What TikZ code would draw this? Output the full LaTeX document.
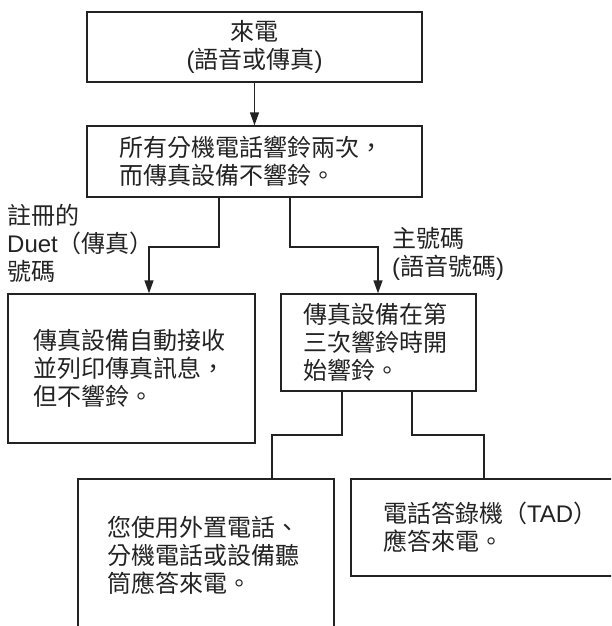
\documentclass[tikz,border=0pt]{standalone}
\usepackage{fontspec}
\setmainfont{Noto Sans CJK TC}
\newfontfamily\lat{Liberation Sans}
\usetikzlibrary{arrows.meta}
\definecolor{ink}{RGB}{35,35,35}
\newcommand{\la}[1]{{\lat #1}}
\begin{document}
\begin{tikzpicture}[x=1pt,y=-1pt,
  every node/.style={font=\fontsize{24}{28}\selectfont, text=ink},
  box/.style={draw=ink, line width=1.4pt, rectangle, inner ysep=0pt, align=left},
  line/.style={draw=ink, line width=1.4pt},
  arr/.style={line, -{Triangle[length=13pt,width=9pt]}},
  lbl/.style={anchor=west, inner sep=0pt, align=left}]
\useasboundingbox (0,0) rectangle (611,626);
\clip (0,0) rectangle (611,626);
\fill[white] (0,0) rectangle (611,626);

\node[box, align=center, minimum width=335pt, minimum height=70pt] (b1) at (254.5,47) {來電\\\la{(}語音或傳真\la{)}};
\node[box, text width=271pt, inner xsep=32pt, minimum height=71pt] (b2) at (254.5,161.5) {所有分機電話響鈴兩次，\\而傳真設備不響鈴。};
\node[box, text width=197pt, inner xsep=25pt, minimum height=149pt] (b3) at (131.5,368.5) {傳真設備自動接收\\並列印傳真訊息，\\但不響鈴。};
\node[box, text width=151pt, inner xsep=22pt, minimum height=97pt] (b4) at (378.5,342.5) {傳真設備在第\\三次響鈴時開\\始響鈴。};
\node[box, text width=198pt, inner xsep=29pt, minimum height=152pt] (b5) at (206,555) {您使用外置電話、\\分機電話或設備聽\\筒應答來電。};
\node[box, text width=216pt, inner xsep=32pt, minimum height=97pt] (b6) at (491,527.5) {電話答錄機（\la{TAD}）\\應答來電。};

\node[lbl] (lab1) at (7,243) {註冊的\\\la{Duet}（傳真）\\號碼};
\node[lbl] (lab2) at (392,254) {主號碼\\\la{(}語音號碼\la{)}};

\coordinate (ls) at (219,0);
\coordinate (lj) at (149,247);
\coordinate (rs) at (290,0);
\coordinate (rj) at (378,247);
\coordinate (ds) at (342,0);
\coordinate (dj) at (272,435);
\coordinate (es) at (412,0);
\coordinate (ej) at (484,435);

\draw[arr] (b1.south) -- (b2.north);
\draw[arr] (b2.south -| ls) |- (lj) -- (b3.north -| lj);
\draw[arr] (b2.south -| rs) |- (rj) -- (b4.north -| rj);
\draw[line] (b4.south -| ds) |- (dj) -- (b5.north -| dj);
\draw[line] (b4.south -| es) |- (ej) -- (b6.north -| ej);
\end{tikzpicture}
\end{document}
